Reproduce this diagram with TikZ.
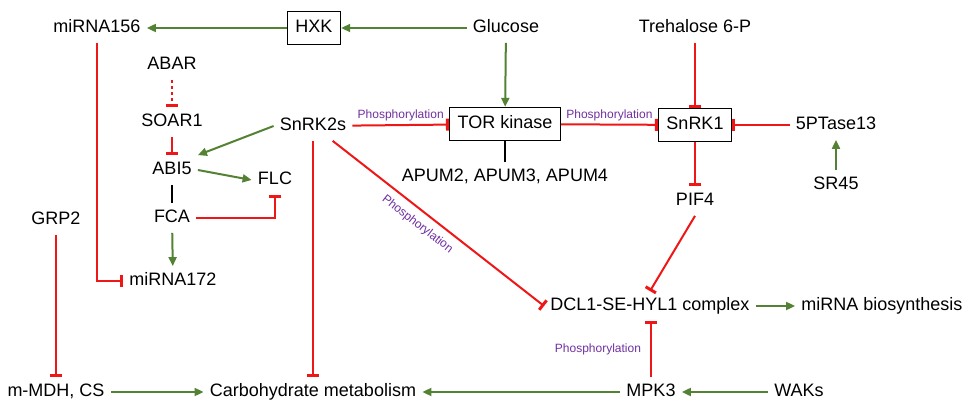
\documentclass[tikz,border=0pt]{standalone}
\usepackage{fontspec}
\setmainfont{Liberation Sans}
\usetikzlibrary{arrows.meta,calc,positioning}
\definecolor{inhred}{RGB}{238,22,22}
\definecolor{actgreen}{RGB}{84,130,53}
\definecolor{phospurple}{RGB}{112,48,160}
\tikzset{
	>={Triangle[length=4.5pt,width=4pt]},
	factor/.style={
		font=\fontsize{9}{11}\selectfont,
		text height=6.6pt,
		text depth=1.9pt,
		inner sep=3pt},
	kinase/.style={
		factor,
		draw, line width=0.7pt,
		minimum height=15pt,
		inner sep=4pt},
	activ/.style={draw=actgreen, line width=1pt, ->},
	inhib/.style={draw=inhred, line width=1pt, -{Bar[width=6pt,line width=1.5pt]}},
	bind/.style={draw, line width=1.3pt},
	phos/.style={font=\fontsize{6}{7}\selectfont, text=phospurple, inner sep=1.5pt},
}

\begin{document}
\begin{tikzpicture}[x=0.5pt, y=-0.5pt]
\useasboundingbox (0,0) rectangle (971,412);
% sugar signals
\node[factor] (mir156) at (97,28) {miRNA156};
\node[kinase] (hxk) at (314,28) {HXK};
\node[factor] (glc) at (506,28) {Glucose};
\node[factor] (t6p) at (695,28) {Trehalose 6-P};
\node[kinase] (tor) at (505,124) {TOR kinase};
\node[kinase] (snrk1) at (695,125) {SnRK1};
\node[factor] (tase) at (836,125) {5PTase13};
\node[factor] (sr45) at (836,185) {SR45};
\node[factor] (apum) at (505,177) {APUM2, APUM3, APUM4};
\node[factor] (pif4) at (695,201) {PIF4};
% ABA branch
\node[factor] (abar) at (172,65) {ABAR};
\node[factor] (soar1) at (172,122) {SOAR1};
\node[factor] (snrk2) at (313,126) {SnRK2s};
\node[factor] (abi5) at (172,170) {ABI5};
\node[factor] (flc) at (275,180) {FLC};
\node[factor] (fca) at (172,218) {FCA};
\node[factor] (grp2) at (56,220) {GRP2};
\node[factor] (mir172) at (173,281) {miRNA172};
% bottom rows
\node[factor] (dcl) at (650,306) {DCL1-SE-HYL1 complex};
\node[factor] (mirbio) at (882,306) {miRNA biosynthesis};
\node[factor] (mdh) at (56,392) {m-MDH, CS};
\node[factor] (carb) at (313,392) {Carbohydrate metabolism};
\node[factor] (mpk3) at (651,392) {MPK3};
\node[factor] (waks) at (799,392) {WAKs};

\draw[activ] (hxk) -- (mir156);
\draw[activ] (glc) -- (hxk);
\draw[activ] (glc) -- (tor);
\draw[inhib] (t6p) -- (snrk1);
\draw[inhib] (snrk2) -- node[phos, above] {Phosphorylation} (tor);
\draw[inhib] (tor) -- node[phos, above] {Phosphorylation} (snrk1);
\draw[inhib] (tase) -- (snrk1);
\draw[activ] (sr45) -- (tase);
\draw[bind] (tor) -- (apum);
\draw[inhib] (snrk1) -- (pif4);
\draw[inhib] (pif4.south) -- (dcl.north);
\draw[inhib] ($(snrk2.south)!0.5!(snrk2.south east)$) -- node[phos, sloped, below=2pt, pos=.44] {Phosphorylation} (dcl.west);
\draw[inhib] (snrk2) -- (carb);
\draw[activ] (snrk2.west) -- (abi5.north east);
\draw[inhib, dash pattern=on 1.5pt off 1.5pt] (abar) -- (soar1);
\draw[inhib] (soar1) -- (abi5);
\draw[activ] (abi5.east) -- (flc.west);
\draw[bind] (abi5) -- (fca);
\draw[inhib] (fca.east) -| (flc.south);
\draw[activ] (fca) -- (mir172);
\draw[inhib] (mir156.south) |- (mir172.west);
\draw[inhib] (grp2) -- (mdh);
\draw[activ] (mdh) -- (carb);
\draw[activ] (mpk3) -- (carb);
\draw[activ] (waks) -- (mpk3);
\draw[inhib] (mpk3.north) -- node[phos, left=3pt] {Phosphorylation} (mpk3.north |- dcl.south);
\draw[activ] (dcl) -- (mirbio);
\end{tikzpicture}
\end{document}
